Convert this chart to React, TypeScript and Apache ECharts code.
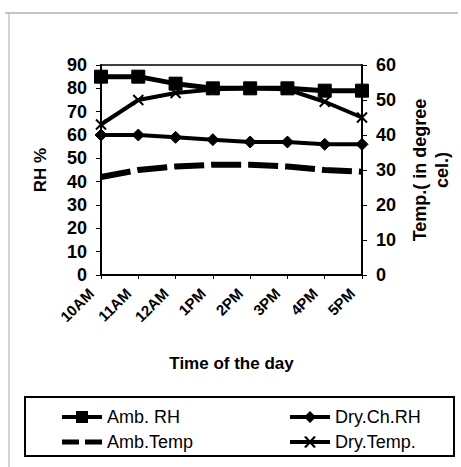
import React, { useEffect, useRef } from "react";
import * as echarts from "echarts";

const categories = ["10AM", "11AM", "12AM", "1PM", "2PM", "3PM", "4PM", "5PM"];
const ambRH = [85, 85, 82, 80, 80, 80, 79, 79];
const dryChRH = [60, 60, 59, 58, 57, 57, 56, 56];
const ambTemp = [28, 30, 31, 31.5, 31.5, 31, 30, 29.5];
const dryTemp = [43, 50, 52, 53, 53.5, 53, 49.5, 45];

const FONT = "'Liberation Sans', Arial, sans-serif";
const CROSS = "path://M0,0L10,10M10,0L0,10";

const ICON_RH = "path://M0,0M40,12M0,4H40V8H0Z M14,0H26V12H14Z";
const ICON_CH = "path://M0,0M40,12M0,4H40V8H0Z M20,0L26,6L20,12L14,6Z";
const ICON_AT = "path://M0,0M40,12M0,3.5H17V8.5H0Z M23,3.5H40V8.5H23Z";
const ICON_DT =
  "path://M0,0M40,12M0,4H40V8H0Z M14,1L16,0L26,11L24,12Z M24,0L26,1L16,12L14,11Z";

export default function App() {
  const ref = useRef<HTMLDivElement>(null);
  useEffect(() => {
    if (!ref.current) return;
    const chart = echarts.init(ref.current, null, { renderer: "svg" });
    const lineSeries = (name: string, data: number[], yAxisIndex: number, extra: any) => ({
      name,
      type: "line",
      data,
      yAxisIndex,
      color: "#000",
      lineStyle: { color: "#000", width: 3 },
      itemStyle: { color: "#000", borderColor: "#000" },
      emphasis: { disabled: true },
      ...extra,
    });
    const legendText = { color: "#000", fontFamily: FONT, fontSize: 18, lineHeight: 18 };
    const iconStyle = { color: "#000", borderWidth: 0 };
    chart.setOption({
      animation: false,
      backgroundColor: "#fff",
      grid: {
        left: 101,
        right: 461 - 365,
        top: 65,
        bottom: 467 - 275,
        show: true,
        borderColor: "#000",
        borderWidth: 1.5,
        backgroundColor: "transparent",
      },
      xAxis: {
        type: "category",
        data: categories,
        boundaryGap: false,
        axisLine: { lineStyle: { color: "#000", width: 2 } },
        axisTick: { show: true, inside: false, length: 4, lineStyle: { color: "#000" } },
        axisLabel: {
          rotate: 45,
          margin: 6,
          padding: [0, 14, 0, 0],
          color: "#000",
          fontFamily: FONT,
          fontWeight: "bold",
          fontSize: 15,
          interval: 0,
        },
        name: "Time of the day",
        nameLocation: "middle",
        nameGap: 80,
        nameTextStyle: { color: "#000", fontFamily: FONT, fontWeight: "bold", fontSize: 17 },
      },
      yAxis: [
        {
          type: "value",
          min: 0,
          max: 90,
          interval: 10,
          axisLine: { show: true, lineStyle: { color: "#000", width: 2 } },
          axisTick: { show: true, length: 5, lineStyle: { color: "#000" } },
          splitLine: { show: false },
          axisLabel: { color: "#000", fontFamily: FONT, fontWeight: "bold", fontSize: 18, margin: 14 },
          name: "RH %",
          nameLocation: "middle",
          nameRotate: 90,
          nameGap: 52,
          nameTextStyle: { color: "#000", fontFamily: FONT, fontWeight: "bold", fontSize: 17 },
        },
        {
          type: "value",
          position: "right",
          min: 0,
          max: 60,
          interval: 10,
          axisLine: { show: true, lineStyle: { color: "#000", width: 2 } },
          axisTick: { show: true, length: 5, lineStyle: { color: "#000" } },
          splitLine: { show: false },
          axisLabel: { color: "#000", fontFamily: FONT, fontWeight: "bold", fontSize: 18, margin: 14 },
          name: "Temp.( in degree\ncel.)",
          nameLocation: "middle",
          nameRotate: 90,
          nameGap: 47,
          nameTextStyle: {
            color: "#000",
            fontFamily: FONT,
            fontWeight: "bold",
            fontSize: 18,
            lineHeight: 22,
            align: "center",
          },
        },
      ],
      legend: [
        {
          orient: "vertical",
          left: 57,
          top: 403,
          itemWidth: 40,
          itemHeight: 12,
          itemGap: 7,
          symbolKeepAspect: false,
          data: [
            { name: "Amb. RH", icon: ICON_RH, itemStyle: iconStyle },
            { name: "Amb.Temp", icon: ICON_AT, itemStyle: iconStyle },
          ],
          textStyle: legendText,
          selectedMode: false,
        },
        {
          orient: "vertical",
          left: 285,
          top: 403,
          itemWidth: 40,
          itemHeight: 12,
          itemGap: 7,
          symbolKeepAspect: false,
          data: [
            { name: "Dry.Ch.RH", icon: ICON_CH, itemStyle: iconStyle },
            { name: "Dry.Temp.", icon: ICON_DT, itemStyle: iconStyle },
          ],
          textStyle: legendText,
          selectedMode: false,
        },
      ],
      graphic: [
        {
          type: "rect",
          shape: { x: 25, y: 397, width: 429, height: 59 },
          style: { fill: "none", stroke: "#000", lineWidth: 2 },
          silent: true,
        },
        {
          type: "line",
          shape: { x1: 5, y1: 13, x2: 458, y2: 13 },
          style: { stroke: "#888", lineWidth: 1 },
          silent: true,
        },
        {
          type: "line",
          shape: { x1: 9, y1: 13, x2: 9, y2: 467 },
          style: { stroke: "#aaa", lineWidth: 1 },
          silent: true,
        },
      ],
      series: [
        lineSeries("Amb. RH", ambRH, 0, {
          symbol: "rect",
          symbolSize: 13,
          lineStyle: { color: "#000", width: 5 },
        }),
        lineSeries("Dry.Ch.RH", dryChRH, 0, {
          symbol: "diamond",
          symbolSize: 12,
          lineStyle: { color: "#000", width: 4 },
        }),
        lineSeries("Amb.Temp", ambTemp, 1, {
          symbol: "none",
          showSymbol: false,
          lineStyle: { color: "#000", width: 6, type: [30, 7] },
        }),
        lineSeries("Dry.Temp.", dryTemp, 1, {
          symbol: CROSS,
          symbolSize: 10,
          itemStyle: { color: "#000", borderColor: "#000", borderWidth: 2 },
          lineStyle: { color: "#000", width: 4 },
        }),
      ],
    });
    return () => chart.dispose();
  }, []);
  return <div ref={ref} style={{ width: 461, height: 467, position: "absolute", left: 0, top: 0 }} />;
}
